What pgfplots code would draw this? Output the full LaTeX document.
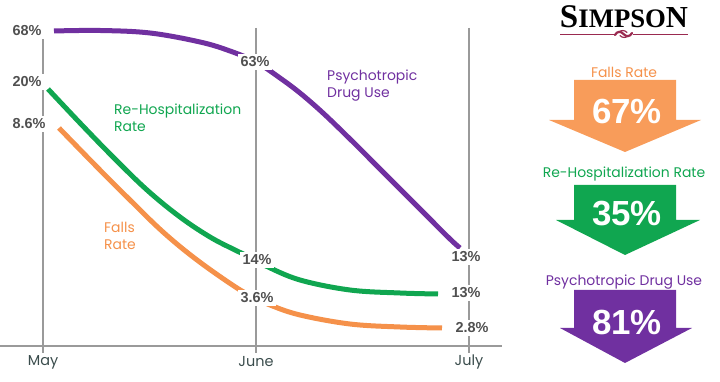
\documentclass[border=0pt]{standalone}
\usepackage{pgfplots}
\pgfplotsset{compat=1.18}
\usepackage{fontspec}
\setmainfont{Liberation Sans}
\newfontfamily\pop{Poppins}
\newfontfamily\lserif{Liberation Serif}
\definecolor{cOrange}{HTML}{F5914A}
\definecolor{cOrangeA}{HTML}{F89C5A}
\definecolor{cGreen}{HTML}{10A650}
\definecolor{cPurple}{HTML}{7030A0}
\definecolor{cVal}{HTML}{505050}
\definecolor{cTick}{HTML}{3A4C4C}
\definecolor{cGrid}{HTML}{9A9A9A}
\definecolor{cMaroon}{HTML}{9A2A50}
\begin{document}
\begin{tikzpicture}
% grid and axis line (pixel frame)
\begin{scope}[x=1bp,y=-1bp,shift={(0bp,382bp)}]
  \draw[cGrid, line width=1.1bp] (43,30) -- (43,353);
  \draw[cGrid, line width=1.1bp] (256,28) -- (256,353);
  \draw[cGrid, line width=1.1bp] (469,28) -- (469,353);
  \draw[cGrid, line width=1.1bp] (0,346) -- (502,346);
\end{scope}
\begin{axis}[scale only axis, width=720bp, height=382bp,
  xmin=-0.20188, xmax=3.17840, ymin=0, ymax=382,
  hide axis, clip=false]
\addplot[cPurple, line width=5bp, smooth, tension=0.6] coordinates {
 (0.0516,351) (0.2676,351.5) (0.5023,349) (0.7371,340) (0.8779,331) (1.0,320)
 (1.1127,304) (1.2066,289) (1.3146,269) (1.4413,243) (1.5587,218) (1.6761,193)
 (1.7934,168) (1.9108,143) (1.9577,134)};
\addplot[cGreen, line width=5bp, smooth, tension=0.6] coordinates {
 (0.0235,293) (0.1737,259) (0.3286,225) (0.4883,192) (0.6432,165) (0.7840,145)
 (0.9014,132) (1.0,122) (1.0469,116) (1.2066,102) (1.4413,92) (1.6761,89) (1.8545,88)};
\addplot[cOrange, line width=5bp, smooth, tension=0.6] coordinates {
 (0.0751,254) (0.2535,215) (0.4085,182) (0.5634,150) (0.7230,122) (0.9108,94)
 (1.0,84) (1.0657,77) (1.2066,67) (1.4413,58) (1.6761,55) (1.8732,54)};
\end{axis}
\begin{scope}[x=1bp,y=-1bp,shift={(0bp,382bp)}]
  % value labels
  \tikzset{val/.style={fill=white, inner sep=2.5bp, text=cVal, font=\bfseries\fontsize{14.5}{14.5}\selectfont}}
  \node[val] at (27,31) {68\%};
  \node[val] at (27,82) {20\%};
  \node[val] at (29,124) {8.6\%};
  \node[val] at (255,62) {63\%};
  \node[val] at (257,260) {14\%};
  \node[val] at (257,298) {3.6\%};
  \node[val] at (466,257) {13\%};
  \node[val] at (466,293) {13\%};
  \node[val] at (472,328) {2.8\%};
  % tick labels
  \tikzset{tk/.style={text=cTick, font=\pop\fontsize{14.5}{14.5}\selectfont, inner sep=0pt}}
  \node[tk] at (43,362) {May};
  \node[tk] at (256,362) {June};
  \node[tk] at (469,362) {July};
  % series labels
  \tikzset{ser/.style={font=\pop\fontsize{14}{17}\selectfont, inner sep=0pt, align=left, anchor=north west}}
  \node[ser, text=cGreen] at (114,104) {Re-Hospitalization\\Rate};
  \node[ser, text=cOrange] at (104,222) {Falls\\Rate};
  \node[ser, text=cPurple] at (327,70) {Psychotropic\\Drug Use};
  % logo
  \node[inner sep=0pt] at (624,17) {\resizebox{128bp}{!}{\lserif\bfseries{\fontsize{26}{26}\selectfont S}{\fontsize{21}{21}\selectfont IMPSO}{\fontsize{24}{24}\selectfont N}}};
  \draw[cMaroon, line width=0.9bp] (560,34) -- (614,34);
  \draw[cMaroon, line width=0.9bp] (633,34) -- (688,34);
  \draw[cMaroon, line width=2.2bp, line cap=round] (615,35) .. controls (617,31) and (621,31) .. (623.5,34)
     .. controls (626,37) and (630,37) .. (632,33);
  \draw[cMaroon, line width=1.2bp, line cap=round] (619,32) .. controls (621,30) and (625,30) .. (627,32.5);
  \draw[cMaroon, line width=1.2bp, line cap=round] (620,35.5) .. controls (622,38) and (626,38) .. (628,36);
  % arrows
  \tikzset{ttl/.style={font=\pop\fontsize{14}{14}\selectfont, inner sep=0pt},
           big/.style={text=white, font=\bfseries\fontsize{35}{35}\selectfont, inner sep=0pt}}
  \node[ttl, text=cOrange] at (624,72) {Falls Rate};
  \fill[cOrangeA] (574,80) -- (676,80) -- (676,120) -- (701,120) -- (625,152) -- (549,120) -- (574,120) -- cycle;
  \node[big] at (627,112) {67\%};
  \node[ttl, text=cGreen] at (624,174) {Re-Hospitalization Rate};
  \fill[cGreen] (574,185) -- (676,185) -- (676,220) -- (700,220) -- (625,255) -- (556,220) -- (574,220) -- cycle;
  \node[big] at (627,214) {35\%};
  \node[ttl, text=cPurple] at (624,282) {Psychotropic Drug Use};
  \fill[cPurple] (574,290) -- (676,290) -- (676,328) -- (692,328) -- (625,363) -- (560,328) -- (574,328) -- cycle;
  \node[big] at (627,323) {81\%};
\end{scope}
\pgfresetboundingbox
\path[use as bounding box] (0,0) rectangle (720bp,382bp);
\end{tikzpicture}
\end{document}
